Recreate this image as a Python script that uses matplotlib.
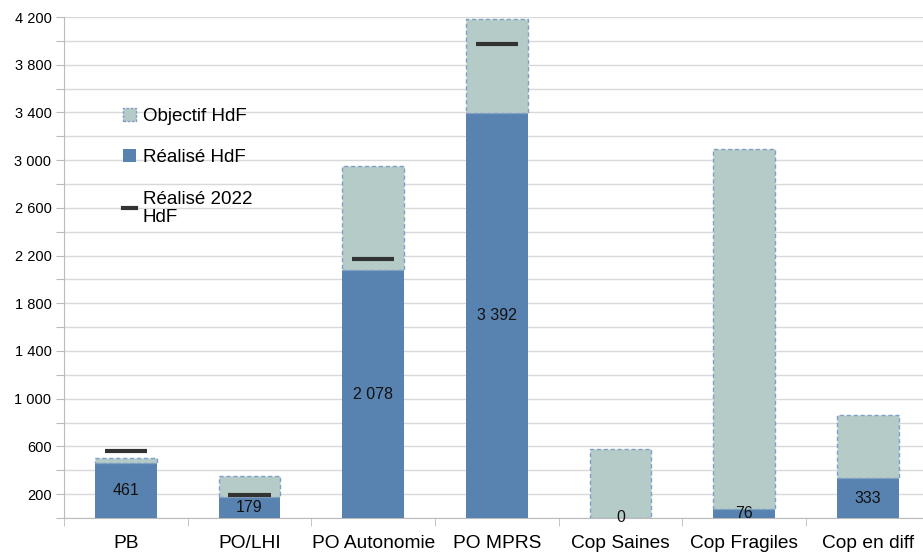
import matplotlib
matplotlib.use("Agg")
import matplotlib.pyplot as plt
import numpy as np
from matplotlib.patches import Patch
from matplotlib.lines import Line2D
from matplotlib.ticker import MultipleLocator, FuncFormatter

# ── Data ───────────────────────────────────────────────────────────────────
categories = ["PB", "PO/LHI", "PO Autonomie", "PO MPRS", "Cop Saines", "Cop Fragiles", "Cop en diff"]
realise = [461, 179, 2078, 3392, 0, 76, 333]
objectif = [500, 350, 2950, 4180, 580, 3090, 860]
realise_2022 = [565, 192, 2170, 3970, np.nan, np.nan, np.nan]

BLUE = "#5882B0"
SAGE = "#B5CBC8"
EDGE = "#7E9FC6"
DARK = "#333333"
GRID = "#D9D9D9"

plt.rcParams["font.family"] = ["Liberation Sans", "DejaVu Sans"]

fig = plt.figure(figsize=(9.23, 5.52), dpi=100)
ax = fig.add_axes([0.0693, 0.0616, 0.938, 0.9076])

x = np.arange(len(categories))
real = np.array(realise, dtype=float)
obj = np.array(objectif, dtype=float)

# réalisé en bas, reste de l'objectif empilé au-dessus
ax.bar(x, real, width=0.5, color=BLUE, zorder=3)
ax.bar(x, obj - real, bottom=real, width=0.5, color=SAGE, edgecolor=EDGE,
       linestyle=(0, (3, 2)), linewidth=1.0, zorder=3)

ax.hlines(realise_2022, x - 0.17, x + 0.17, color=DARK, linewidth=3, zorder=4)

for xi, v in zip(x, real):
    ax.text(xi, v / 2, f"{int(v):,}".replace(",", " "), ha="center", va="center",
            fontsize=11.5, color="#111111", zorder=5)

ax.set_xlim(-0.5, len(categories) - 0.5)
ax.set_ylim(0, 4200)
ax.yaxis.set_major_locator(MultipleLocator(200))


def fmt(v, pos):
    v = int(round(v))
    if v >= 200 and (v - 200) % 400 == 0:
        return f"{v:,}".replace(",", " ")
    return ""


ax.yaxis.set_major_formatter(FuncFormatter(fmt))
ax.grid(axis="y", color=GRID, linewidth=1.0, zorder=0)
ax.set_axisbelow(True)

ax.set_xticks(x)
ax.set_xticklabels(categories, fontsize=13.8)
ax.set_xticks(np.arange(-0.5, len(categories), 1.0), minor=True)
ax.tick_params(axis="x", which="major", length=0, pad=12.5)
ax.tick_params(axis="x", which="minor", length=6, color="#BBBBBB")
ax.tick_params(axis="y", length=6, color="#BBBBBB", labelsize=10.5, pad=3)

for s in ["top", "right"]:
    ax.spines[s].set_visible(False)
ax.spines["left"].set_color("#BBBBBB")
ax.spines["bottom"].set_color("#BBBBBB")

handles = [
    Patch(facecolor=SAGE, edgecolor=EDGE, linestyle=(0, (2, 1)), linewidth=1.0),
    Patch(facecolor=BLUE),
    Line2D([0], [0], color=DARK, linewidth=3),
]
labels = ["Objectif HdF", "Réalisé HdF", "Réalisé 2022\nHdF"]
leg = ax.legend(handles, labels, loc="upper left", bbox_to_anchor=(0.049, 0.853),
                frameon=False, fontsize=13.5, handlelength=0.7, handleheight=0.7,
                handletextpad=0.35, labelspacing=1.3, borderpad=0.4)
leg.get_texts()[2].set_linespacing(1.15)

fig.savefig("out.png", dpi=100)
